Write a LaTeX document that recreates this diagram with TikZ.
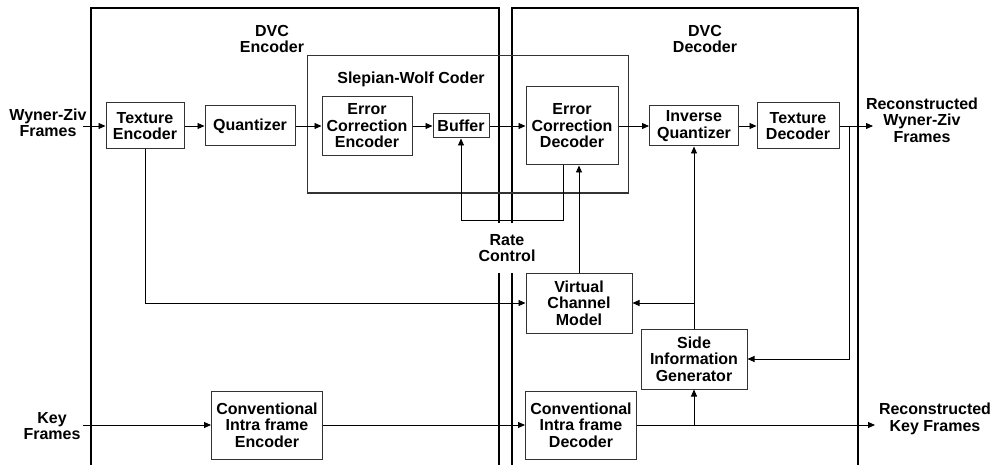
\documentclass[tikz,border=0pt]{standalone}
\usepackage{fontspec}
\setmainfont{Liberation Sans}
\usetikzlibrary{calc}
\usetikzlibrary{arrows.meta}
\tikzset{
  blk/.style={draw=black!80, line width=1pt, align=center, inner sep=2pt},
  lbl/.style={align=center, inner sep=0pt},
  frame/.style={line width=2pt},
  con/.style={line width=0.9pt},
  >={Triangle[length=7pt,width=6pt]}
}

\begin{document}
\begin{tikzpicture}[x=1pt, y=-1pt, font=\fontsize{16}{16.5}\selectfont\bfseries]

\useasboundingbox (0,0) rectangle (995,465);

\draw[frame] (91,465) -- (91,8) -- (499,8) -- (499,223);
\draw[frame] (499,273) -- (499,465);
\draw[frame] (512,223) -- (512,8) -- (858,8) -- (858,465);
\draw[frame] (512,273) -- (512,465);

\node[lbl] (dvcenc) at (272,39) {DVC\\Encoder};
\node[lbl] (dvcdec) at (705,39) {DVC\\Decoder};

\draw[draw=black!80, line width=1pt] (307,56) rectangle (628,193);
\node[lbl] (swlbl) at (411,79) {Slepian-Wolf Coder};

\node[blk, minimum width=78, minimum height=46] (tenc) at (145,126) {Texture\\Encoder};
\node[blk, minimum width=90, minimum height=40] (quant) at (250,126) {Quantizer};
\node[blk, minimum width=90, minimum height=59] (ecenc) at (367,126) {Error\\Correction\\Encoder};
\node[blk, minimum width=56, minimum height=24] (buf) at (461,126) {Buffer};
\node[blk, minimum width=92, minimum height=78] (ecdec) at (572,126) {Error\\Correction\\Decoder};
\node[blk, minimum width=89, minimum height=40] (iquant) at (694,126) {Inverse\\Quantizer};
\node[blk, minimum width=82, minimum height=46] (tdec) at (798,126) {Texture\\Decoder};
\node[blk, minimum width=106, minimum height=60] (vcm) at (579,303) {Virtual\\Channel\\Model};
\node[blk, minimum width=106, minimum height=60] (sig) at (694,359) {Side\\Information\\Generator};
\node[blk, minimum width=111, minimum height=68] (cienc) at (267,425) {Conventional\\Intra frame\\Encoder};
\node[blk, minimum width=111, minimum height=68] (cidec) at (581,425) {Conventional\\Intra frame\\Decoder};

\node[lbl] (wzin) at (48,123) {Wyner-Ziv\\Frames};
\node[lbl] (keyin) at (52,426) {Key\\Frames};
\node[lbl] (wzout) at (922,120) {Reconstructed\\Wyner-Ziv\\Frames};
\node[lbl] (keyout) at (935,419) {Reconstructed\\Key Frames};
\node[lbl] (rate) at (507,248) {Rate\\Control};

\coordinate (wzsrc) at (83,126);
\coordinate (keysrc) at (83,425);
\coordinate (wzend) at (873,126);
\coordinate (keyend) at (875,425);
\coordinate (fb) at (849,126);
\coordinate (rc) at (563,220);

\draw[con,->] (wzsrc) -- (tenc);
\draw[con,->] (tenc) -- (quant);
\draw[con,->] (quant) -- (ecenc);
\draw[con,->] (ecenc) -- (buf);
\draw[con,->] (buf) -- (ecdec);
\draw[con,->] (ecdec) -- (iquant);
\draw[con,->] (iquant) -- (tdec);
\draw[con,->] (tdec) -- (wzend);
\draw[con,->] (fb) |- (sig.east);
\draw[con,->] (tenc.south) |- (vcm.west);
\draw[con,->] (sig.north) -- (sig.north |- iquant.south);
\draw[con,->] (sig.north |- vcm.east) -- (vcm.east);
\draw[con,->] (vcm.north) -- (vcm.north |- ecdec.south);
\draw[con,->] (ecdec.south -| rc) -- (rc) -| (buf.south);
\draw[con,->] (keysrc) -- (cienc);
\draw[con,->] (cienc) -- (cidec);
\draw[con,->] (cidec) -- (keyend);
\draw[con,->] (sig.south |- cidec.east) -- (sig.south);

\end{tikzpicture}
\end{document}
